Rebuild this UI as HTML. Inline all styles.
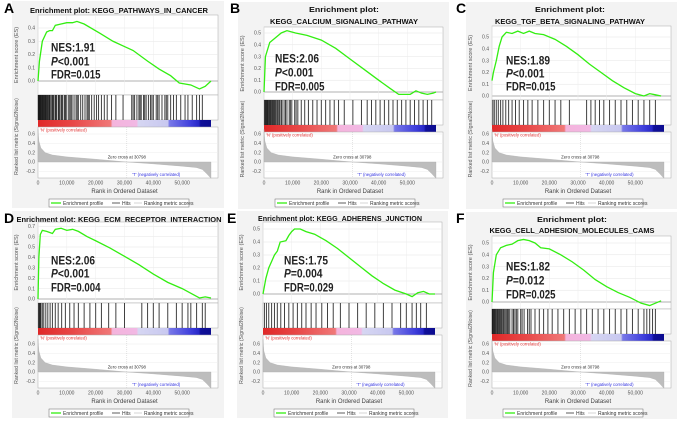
<!DOCTYPE html>
<html><head><meta charset="utf-8">
<style>
html,body{margin:0;padding:0;background:#fff;}
svg{display:block;font-family:"Liberation Sans",sans-serif;}
</style></head>
<body>
<svg id="fig" width="677" height="421" viewBox="0 0 677 421" xmlns="http://www.w3.org/2000/svg"></svg>
<script>
// ---- data (ranks in thousands) ----
const xTickLabels = ["0","10,000","20,000","30,000","40,000","50,000"];
const xTickValues = [0,10,20,30,40,50];
const metricRanks = [0,0.3,1,2.5,5,10,20,30.8,40,50,55,57,58.5,60];
const metricValues = [0.7,0.45,0.3,0.2,0.15,0.11,0.06,0,-0.04,-0.09,-0.12,-0.16,-0.25,-0.35];
const metricTicks = [0.6,0.4,0.2,0.0,-0.2];

const esRanksA = [0,0.5,1.5,3,4,5,6,8,10,12,13.5,16,21.5,26,30,33,38,42,46,49,53,56,58,60];
const esValuesA = [0,0.15,0.3,0.37,0.38,0.38,0.42,0.43,0.44,0.44,0.45,0.43,0.36,0.3,0.26,0.23,0.15,0.09,0.04,-0.015,-0.03,-0.06,-0.04,0.0];
const hitsA = [0.1,0.2,0.35,0.5,0.65,0.8,0.95,1.1,1.3,1.5,1.65,1.8,2,2.2,2.4,2.6,2.8,3,3.3,3.5,3.8,4,4.2,4.6,5,5.2,5.5,6,6.2,6.4,7,7.2,7.5,8,8.3,8.6,9.2,9.5,9.8,10.5,11,11.4,11.8,12.5,13.2,13.6,14,14.8,15.5,16.3,17,17.4,17.8,18.6,19.5,20.3,21,22,23,24,25.5,27,29.5,32.5,33,33.5,34.3,35,35.4,35.8,36.6,37,37.5,38.3,39,39.5,40,41,41.5,42,43,44,44.5,45,46,47,48,49.5,51,52,53.5,55,56,57];

const esRanksB = [0,0.5,2,4,6,8,11,15,20,25,30,35,40,44,47,51,53,55,57,59,60];
const esValuesB = [0,0.3,0.42,0.46,0.5,0.52,0.5,0.48,0.44,0.37,0.28,0.19,0.1,0.03,-0.02,-0.02,0.01,-0.01,-0.02,-0.01,0.0];
const hitsB = [0.2,0.4,0.6,0.8,1,1.2,1.4,1.7,1.9,2.2,2.4,2.7,3,3.2,3.5,3.8,4.1,4.5,4.8,5.2,5.5,6,6.3,7,7.5,8,8.8,9.2,9.7,10.7,11.2,11.8,13,14.2,15.5,17,18.5,20,21.5,23,24.5,26,28,31,34,36,37.5,39,40.5,42,43.5,45,46.5,48,49.5,51,52.5,54,55.5,57,58.5];

const esRanksC = [0,0.5,1.5,2.5,3.5,5,7,9,11,13,15,18,22,26,30,34,38,42,46,50,53,55,57,59];
const esValuesC = [0.13,0.2,0.3,0.42,0.5,0.54,0.53,0.55,0.53,0.55,0.53,0.52,0.48,0.42,0.35,0.27,0.2,0.13,0.07,0.02,0.0,0.02,0.01,0.0];
const hitsC = [0.3,0.8,1.5,2.2,3,3.8,4.8,5.8,7,8.2,9.5,11,12.5,14,16,18,20,22,24,27,33,34.5,36,37.5,39,41,43,45,47,49,51,53,55,57];

const esRanksD = [0,0.3,0.8,1.5,3,5,6,8,10,12,14,17,20,25,30,35,40,45,50,54,56,58,60];
const esValuesD = [0,0.4,0.62,0.66,0.65,0.63,0.67,0.68,0.66,0.67,0.65,0.6,0.56,0.49,0.41,0.33,0.24,0.16,0.1,0.04,0.01,0.02,0.01];
const hitsD = [0.2,0.4,0.6,0.8,1,1.5,2,2.7,3.4,4.2,5,6,7,8.2,9.5,11,12.5,14,16,18,20,22,24.5,27,30,36,38,40,42,45,48,50,52,53,55,57,58];

const esRanksE = [0,1,2,3,4,5,6,8,9,10,11,13,15,18,22,26,30,34,38,42,46,50,52,54,56,58,60];
const esValuesE = [0,0.12,0.2,0.25,0.3,0.33,0.4,0.41,0.45,0.48,0.5,0.5,0.48,0.46,0.41,0.35,0.28,0.21,0.14,0.08,0.03,0.0,-0.02,0.01,0.02,0.0,0.0];
const hitsE = [0.5,1.2,2,3,4,5,6.2,7.5,9,10.5,12,13.5,15,16.8,18.5,20.5,22.5,24.5,27,30,33,36,39,42,45,48,50,52,53.5,55,57];

const esRanksF = [0,0.5,1.5,3,5,7,9,11,13,15,17,20,24,28,32,36,40,44,48,52,55,57,59];
const esValuesF = [0,0.25,0.4,0.46,0.48,0.49,0.52,0.53,0.52,0.5,0.46,0.45,0.4,0.34,0.27,0.19,0.13,0.08,0.04,-0.01,-0.03,-0.01,0.01];
const hitsF = [0.1,0.2,0.4,0.6,0.8,1,1.2,1.5,1.8,2,2.3,2.6,2.9,3.2,3.5,3.9,4.2,4.6,5,5.4,5.8,6.2,7,7.5,8,8.5,9,10,10.5,11.2,12.4,13,13.6,15,16.5,18,19.5,21,23,25,27,29,31,33,35,37,39,41,43,45,47,49,51,53,54,55,56,57];

const NS="http://www.w3.org/2000/svg";
const svg=document.getElementById('fig');
function mk(tag,attrs,parent,text){const e=document.createElementNS(NS,tag);for(const k in attrs)e.setAttribute(k,attrs[k]);if(text!==undefined)e.textContent=text;(parent||svg).appendChild(e);return e;}

const defs=mk('defs',{});
const lg=mk('linearGradient',{id:'cbar',x1:'0',x2:'1',y1:'0',y2:'0'},defs);
[[0,'#e02828'],[0.2,'#e84848'],[0.42,'#f07878'],[0.43,'#f4b4dc'],[0.57,'#f2b8e4'],[0.58,'#d6d6f2'],[0.75,'#c8c8f0'],[0.76,'#7878e8'],[0.88,'#4040dc'],[0.93,'#2828c8'],[0.94,'#10109a'],[1,'#0c0c90']].forEach(s=>mk('stop',{offset:s[0],'stop-color':s[1]},lg));

const panels=[
 {id:'a',letter:'A',ox:0,oy:0,left:38,right:211,title:['Enrichment plot: KEGG_PATHWAYS_IN_CANCER'],tw:[178],tcx:119,ty:[10],top:15,zero:81,px:132.5,bottom:95,ticks:[0.0,0.1,0.2,0.3,0.4],esR:esRanksA,esV:esValuesA,hits:hitsA,nes:['NES:1.91','P<0.001','FDR=0.015'],nx:13,ny:[47,61,74]},
 {id:'b',letter:'B',ox:226,oy:0,left:38,right:210,title:['Enrichment plot:','KEGG_CALCIUM_SIGNALING_PATHWAY'],tw:[70,148],tcx:118,ty:[9,21],top:27,zero:92,px:118,bottom:100,ticks:[0.0,0.1,0.2,0.3,0.4,0.5],esR:esRanksB,esV:esValuesB,hits:hitsB,nes:['NES:2.06','P<0.001','FDR=0.005'],nx:11,ny:[58,72,86]},
 {id:'c',letter:'C',ox:452,oy:0,left:40,right:212,title:['Enrichment plot:','KEGG_TGF_BETA_SIGNALING_PATHWAY'],tw:[70,150],tcx:118,ty:[9,21],top:26,zero:96,px:118,bottom:100,ticks:[0.0,0.1,0.2,0.3,0.4,0.5],esR:esRanksC,esV:esValuesC,hits:hitsC,nes:['NES:1.89','P<0.001','FDR=0.015'],nx:14,ny:[60,73,86]},
 {id:'d',letter:'D',ox:0,oy:210,left:38,right:211,title:['Enrichment plot: KEGG_ECM_RECEPTOR_INTERACTION'],tw:[205],tcx:119,ty:[9],top:12,zero:89,px:104,bottom:93,ticks:[0.0,0.1,0.2,0.3,0.4,0.5,0.6,0.7],esR:esRanksD,esV:esValuesD,hits:hitsD,nes:['NES:2.06','P<0.001','FDR=0.004'],nx:13,ny:[50,63,77]},
 {id:'e',letter:'E',ox:225,oy:210,left:38,right:210,title:['Enrichment plot: KEGG_ADHERENS_JUNCTION'],tw:[164],tcx:115,ty:[8],top:12,zero:84,px:130,bottom:93,ticks:[0.0,0.1,0.2,0.3,0.4,0.5],esR:esRanksE,esV:esValuesE,hits:hitsE,nes:['NES:1.75','P=0.004','FDR=0.029'],nx:21,ny:[50,63,77]},
 {id:'f',letter:'F',ox:452,oy:210,left:40,right:212,title:['Enrichment plot:','KEGG_CELL_ADHESION_MOLECULES_CAMS'],tw:[70,165],tcx:120,ty:[9,20],top:26,zero:92,px:118,bottom:99,ticks:[0.0,0.1,0.2,0.3,0.4,0.5],esR:esRanksF,esV:esValuesF,hits:hitsF,nes:['NES:1.82','P=0.012','FDR=0.025'],nx:14,ny:[56,70,84]}
];

const XMAX=60;
panels.forEach(p=>{
  const g=mk('g',{transform:`translate(${p.ox},${p.oy})`});
  
  
  const xs=v=>p.left+(v/XMAX)*(p.right-p.left);
  const ys=v=>p.zero-v*p.px;
  const mZero=162, mPx=46.7, mBottom=178;
  const ms=v=>mZero-v*mPx;
  const frameR=p.right+7;
  const bg=mk('rect',{x:p.left-26,y:p.title.length>1?2:1,width:frameR-p.left+32,height:207,fill:'#f3f3f3'},g);
  
  
  const L=mk('text',{x:p.id==='e'?2:4,y:13,'font-size':14,'font-weight':'bold',fill:'#000'},g,p.letter);
  
  
  p.title.forEach((t,i)=>{
    const tt=mk('text',{x:p.tcx,y:p.ty[i]+3,'font-size':7.3,'font-weight':'bold','text-anchor':'middle',fill:'#111',textLength:p.tw[i],lengthAdjust:'spacingAndGlyphs'},g,t);
    
    
  });
  const ef=mk('rect',{x:p.left,y:p.top,width:frameR-p.left,height:p.bottom-p.top,fill:'#fff',stroke:'#aaa','stroke-width':0.5},g);
  
  
  p.ticks.forEach(t=>{
    const y=ys(t);
    mk('line',{x1:p.left,x2:frameR,y1:y,y2:y,stroke:t===0?'#999':'#e4e4e4','stroke-width':t===0?0.7:0.5},g);
    const tl=mk('text',{x:p.left-3,y:y+1.7,'font-size':5,'text-anchor':'end',fill:'#555'},g,t.toFixed(1));
    
    
  });
  xTickValues.forEach(v=>{mk('line',{x1:xs(v),x2:xs(v),y1:p.top,y2:p.bottom,stroke:'#ececec','stroke-width':0.5},g);});
  const yt=mk('text',{transform:`translate(${p.left-20},${(p.top+p.bottom)/2}) rotate(-90)`,'font-size':5.6,'text-anchor':'middle',fill:'#555'},g,'Enrichment score (ES)');
  
  
  const pts=p.esR.map((r,i)=>xs(r).toFixed(2)+','+ys(p.esV[i]).toFixed(2)).join(' ');
  const curve=mk('polyline',{points:pts,fill:'none',stroke:'#33ee11','stroke-width':1.3},g);
  
  
  p.nes.forEach((t,i)=>{
    const nt=mk('text',{x:p.left+p.nx,y:p.ny[i]+4.5,'font-size':12,'font-weight':'bold',fill:'#222',textLength:t.length*5.5,lengthAdjust:'spacingAndGlyphs'},g);
    if(t[0]==='P'){mk('tspan',{'font-style':'italic'},nt,'P');mk('tspan',{},nt,t.slice(1));}
    else nt.textContent=t;
    
    
  });
  const hTop=p.bottom, hBot=p.bottom+25;
  const hb=mk('rect',{x:p.left,y:hTop,width:frameR-p.left,height:25,fill:'#fff',stroke:'#aaa','stroke-width':0.5},g);
  
  
  p.hits.forEach(h=>{
    const hl=mk('line',{x1:xs(h),x2:xs(h),y1:hTop,y2:hBot,stroke:'#111','stroke-width':1.0,'stroke-opacity':0.8},g);
    
    
  });
  const cb=mk('rect',{x:p.left,y:hBot,width:p.right-p.left,height:7,fill:'url(#cbar)'},g);
  
  
  const cTop=hBot+7;
  const mf=mk('rect',{x:p.left,y:cTop,width:frameR-p.left,height:mBottom-cTop,fill:'#fff',stroke:'#aaa','stroke-width':0.5},g);
  
  
  metricTicks.forEach(t=>{
    const y=ms(t);
    mk('line',{x1:p.left,x2:frameR,y1:y,y2:y,stroke:'#ececec','stroke-width':0.5},g);
    const tl=mk('text',{x:p.left-3,y:y+1.7,'font-size':5,'text-anchor':'end',fill:'#555'},g,t.toFixed(1));
    
    
  });
  let mp=xs(metricRanks[0]).toFixed(2)+','+ms(0).toFixed(2)+' ';
  mp+=metricRanks.map((r,i)=>xs(r).toFixed(2)+','+ms(metricValues[i]).toFixed(2)).join(' ');
  mp+=' '+xs(metricRanks[metricRanks.length-1]).toFixed(2)+','+ms(0).toFixed(2);
  const area=mk('polygon',{points:mp,fill:'#bdbdbd',stroke:'#aaa','stroke-width':0.3},g);
  
  
  const zx=xs(30.8);
  mk('line',{x1:zx,x2:zx,y1:cTop,y2:mBottom,stroke:'#bbb','stroke-width':0.4,'stroke-dasharray':'1,1'},g);
  const t1=mk('text',{x:p.left+2,y:cTop+4.5,'font-size':4.3,fill:'#e03030'},g,"'N' (positively correlated)");
  
  
  const t2=mk('text',{x:zx,y:ms(0.08),'font-size':4.3,'text-anchor':'middle',fill:'#333'},g,'Zero cross at 30798');
  
  
  const t3=mk('text',{x:xs(41),y:mBottom-2,'font-size':4.3,'text-anchor':'middle',fill:'#3030e0'},g,"'T' (negatively correlated)");
  
  
  const yt2=mk('text',{transform:`translate(${p.left-20},${(p.bottom+mBottom)/2}) rotate(-90)`,'font-size':5.2,'text-anchor':'middle',fill:'#555'},g,'Ranked list metric (Signal2Noise)');
  
  
  xTickValues.forEach((v,i)=>{
    const xl=mk('text',{x:xs(v),y:mBottom+6.5,'font-size':5,'text-anchor':'middle',fill:'#555'},g,xTickLabels[i]);
    
    
  });
  const xt=mk('text',{x:(p.left+p.right)/2,y:mBottom+15,'font-size':6,'text-anchor':'middle',fill:'#444'},g,'Rank in Ordered Dataset');
  
  
  const lx=p.left+11, ly=199;
  const lgd=mk('g',{},g);
  
  
  mk('rect',{x:lx,y:ly,width:140,height:8,fill:'#fff',stroke:'#666','stroke-width':0.5},lgd);
  mk('line',{x1:lx+2,x2:lx+12,y1:ly+4,y2:ly+4,stroke:'#33ee11','stroke-width':1.3},lgd);
  const e1=mk('text',{x:lx+14,y:ly+5.8,'font-size':5,fill:'#333'},lgd,'Enrichment profile');
  
  
  mk('line',{x1:lx+63,x2:lx+71,y1:ly+4,y2:ly+4,stroke:'#333','stroke-width':0.8},lgd);
  const e2=mk('text',{x:lx+73,y:ly+5.8,'font-size':5,fill:'#333'},lgd,'Hits');
  
  
  mk('line',{x1:lx+85,x2:lx+93,y1:ly+4,y2:ly+4,stroke:'#ccc','stroke-width':0.8},lgd);
  const e3=mk('text',{x:lx+95,y:ly+5.8,'font-size':5,fill:'#333'},lgd,'Ranking metric scores');
  
  
});
</script>
</body></html>
